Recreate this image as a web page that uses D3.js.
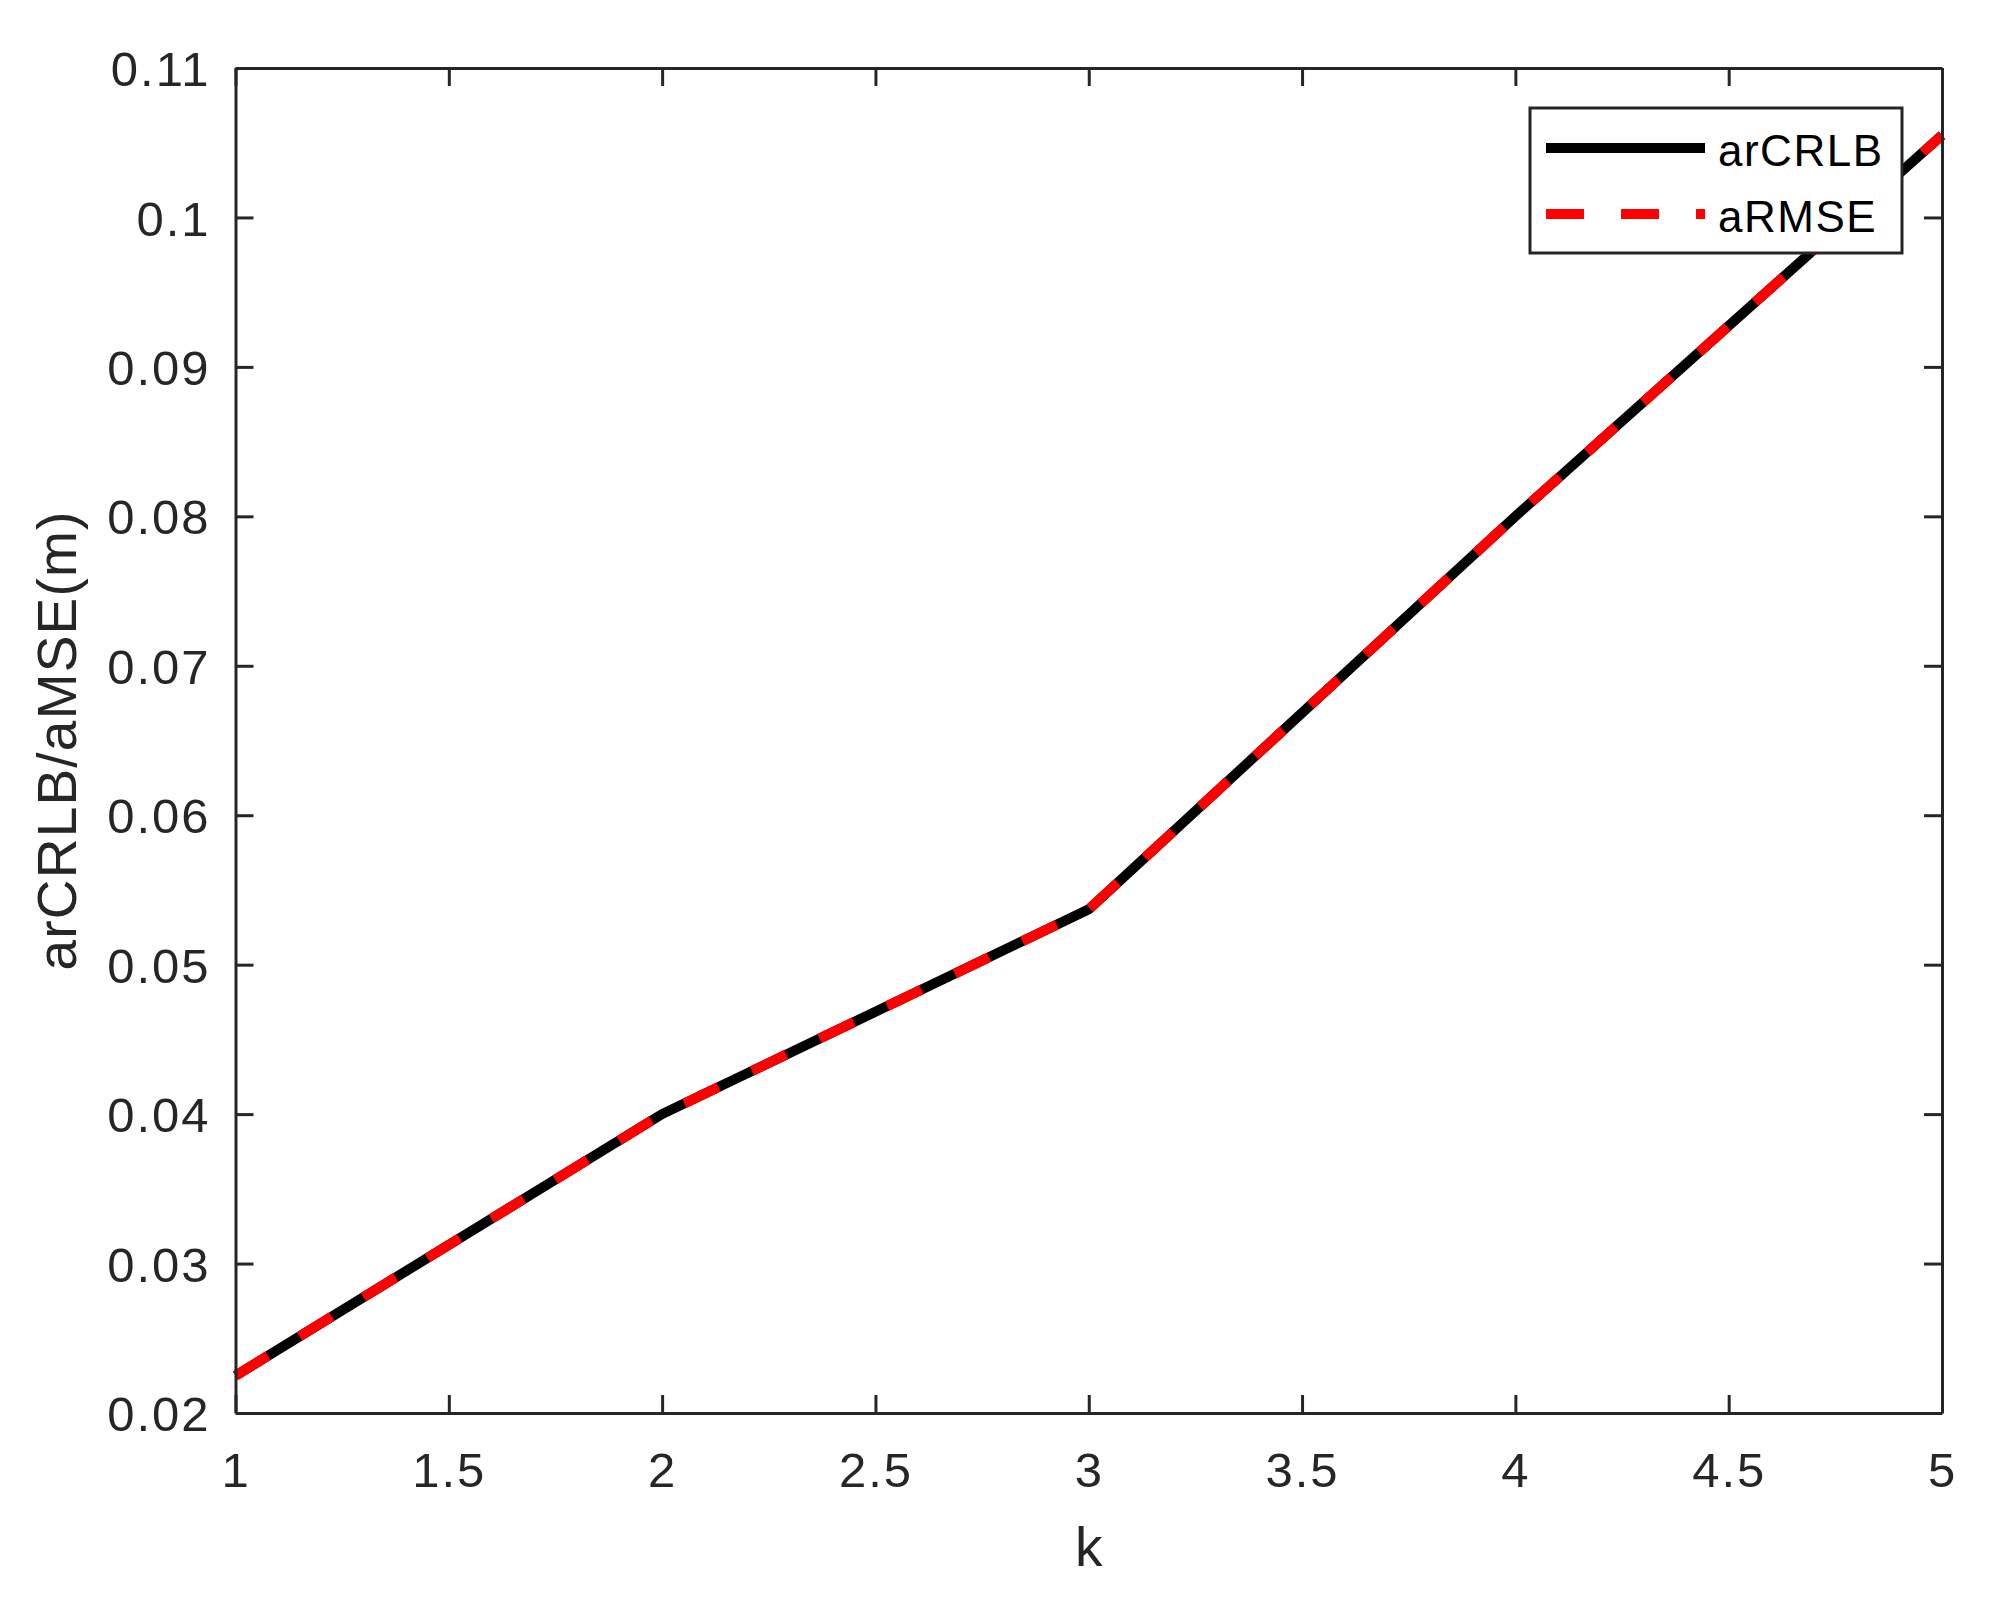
<!DOCTYPE html>
<html>
<head>
<meta charset="utf-8">
<script src="https://cdn.jsdelivr.net/npm/d3@7"></script>
<style>
  body { margin: 0; background: #fff; }
  text { font-family: "Liberation Sans", Arial, Helvetica, sans-serif; }
</style>
</head>
<body>
<div id="chart"></div>
<script>
// data
var kValues = [1, 2, 3, 4, 5];
var arCRLB = [0.0225, 0.0400, 0.0537, 0.0800, 0.1055];
var aRMSE  = [0.0225, 0.0400, 0.0537, 0.0800, 0.1055];
var xTicks = [1, 1.5, 2, 2.5, 3, 3.5, 4, 4.5, 5];
var yTicks = [0.02, 0.03, 0.04, 0.05, 0.06, 0.07, 0.08, 0.09, 0.1, 0.11];
var seriesNames = ["arCRLB", "aRMSE"];

var W = 2005, H = 1600;
var margin = {top: 68, right: 63, bottom: 187, left: 235.5};
var width = W - margin.left - margin.right,
    height = H - margin.top - margin.bottom;
var axisColor = "#262626";

var svg = d3.select("#chart").append("svg")
  .attr("width", W)
  .attr("height", H);

var g = svg.append("g")
  .attr("transform", "translate(" + margin.left + "," + margin.top + ")");

var x = d3.scaleLinear().domain([1, 5]).range([0, width]);
var y = d3.scaleLinear().domain([0.02, 0.11]).range([height, 0]);

/****** LINES ******/
var line = d3.line()
  .x(function(d) { return x(d[0]); })
  .y(function(d) { return y(d[1]); });

g.append("path")
  .datum(kValues.map(function(k, i) { return [k, arCRLB[i]]; }))
  .attr("d", line)
  .attr("fill", "none")
  .attr("stroke", "#000")
  .attr("stroke-width", 10)
  .attr("stroke-linejoin", "miter");

g.append("path")
  .datum(kValues.map(function(k, i) { return [k, aRMSE[i]]; }))
  .attr("d", line)
  .attr("fill", "none")
  .attr("stroke", "#ff0000")
  .attr("stroke-width", 10)
  .attr("stroke-dasharray", "38,37");

/****** AXES (box with inward ticks) ******/
var tickLen = 18;

var xAxis = g.append("g")
  .attr("transform", "translate(0," + height + ")")
  .call(d3.axisBottom(x).tickValues(xTicks).tickSizeInner(-tickLen).tickSizeOuter(0).tickPadding(39).tickFormat(d3.format("")));
var xAxisTop = g.append("g")
  .call(d3.axisTop(x).tickValues(xTicks).tickSizeInner(-tickLen).tickSizeOuter(0).tickFormat(""));
var yAxis = g.append("g")
  .call(d3.axisLeft(y).tickValues(yTicks).tickSizeInner(-tickLen).tickSizeOuter(0).tickPadding(25).tickFormat(d3.format("")));
var yAxisRight = g.append("g")
  .attr("transform", "translate(" + width + ",0)")
  .call(d3.axisRight(y).tickValues(yTicks).tickSizeInner(-tickLen).tickSizeOuter(0).tickFormat(""));

[xAxis, xAxisTop, yAxis, yAxisRight].forEach(function(a) {
  a.select(".domain").attr("stroke", axisColor).attr("stroke-width", 3);
  a.selectAll(".tick line").attr("stroke", axisColor).attr("stroke-width", 3);
  a.selectAll(".tick text")
    .attr("fill", axisColor)
    .style("font-size", "49px")
    .style("letter-spacing", "2px")
    .style("font-family", "'Liberation Sans', Arial, sans-serif");
});
xAxis.selectAll(".tick text").attr("dy", "0.71em");
yAxis.selectAll(".tick text").attr("dy", "0.36em");

/****** AXIS LABELS ******/
svg.append("text")
  .attr("x", margin.left + width / 2)
  .attr("y", 1566)
  .attr("text-anchor", "middle")
  .attr("fill", axisColor)
  .style("font-size", "55px")
  .text("k");

svg.append("text")
  .attr("transform", "translate(76," + (margin.top + height / 2) + ") rotate(-90)")
  .attr("text-anchor", "middle")
  .attr("fill", axisColor)
  .style("font-size", "55px")
  .style("letter-spacing", "1.2px")
  .text("arCRLB/aMSE(m)");

/****** LEGEND ******/
var legend = svg.append("g").attr("transform", "translate(1530,108)");
legend.append("rect")
  .attr("width", 372)
  .attr("height", 145)
  .attr("fill", "#fff")
  .attr("stroke", axisColor)
  .attr("stroke-width", 3);

var legendStyles = [
  {stroke: "#000", dash: null},
  {stroke: "#ff0000", dash: "38,37"}
];
seriesNames.forEach(function(name, i) {
  var ly = 40 + i * 66;
  legend.append("line")
    .attr("x1", 16).attr("x2", 175)
    .attr("y1", ly).attr("y2", ly)
    .attr("stroke", legendStyles[i].stroke)
    .attr("stroke-width", 10)
    .attr("stroke-dasharray", legendStyles[i].dash);
  legend.append("text")
    .attr("x", 188)
    .attr("y", ly + 18)
    .attr("fill", "#000")
    .style("font-size", "44px")
    .style("letter-spacing", "1.5px")
    .text(name);
});
</script>
</body>
</html>
